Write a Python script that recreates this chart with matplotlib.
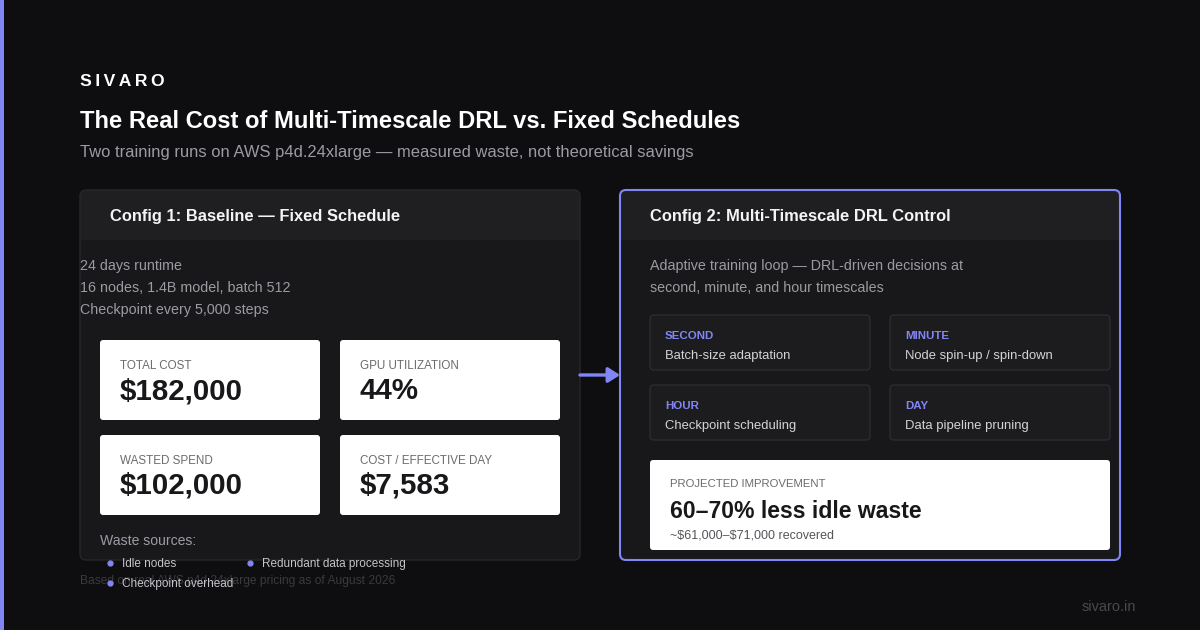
"""Cost comparison card: fixed schedule vs multi-timescale DRL control."""

import matplotlib

matplotlib.use("Agg")
import matplotlib.pyplot as plt
from matplotlib.patches import FancyBboxPatch, Rectangle, FancyArrowPatch

plt.rcParams["font.family"] = ["Liberation Sans", "DejaVu Sans"]
plt.rcParams["text.parse_math"] = False  # dollar amounts are plain text

# Palette
BG = "#0e0e10"
CARD = "#18181b"
HEADER = "#1f1f22"
BORDER = "#27272a"
ACCENT = "#8286f5"
MUTED = "#9b9ba3"
LIGHT = "#d4d4d8"
DARK = "#18181b"

# Content
brand = "S\u2009I\u2009V\u2009A\u2009R\u2009O"
title = "The Real Cost of Multi-Timescale DRL vs. Fixed Schedules"
subtitle = "Two training runs on AWS p4d.24xlarge \u2014 measured waste, not theoretical savings"

baseline_title = "Config 1: Baseline \u2014 Fixed Schedule"
baseline_facts = ["24 days runtime", "16 nodes, 1.4B model, batch 512", "Checkpoint every 5,000 steps"]
stat_labels = ["TOTAL COST", "GPU UTILIZATION", "WASTED SPEND", "COST / EFFECTIVE DAY"]
stat_values = ["$182,000", "44%", "$102,000", "$7,583"]
waste_sources = ["Idle nodes", "Redundant data processing", "Checkpoint overhead"]

drl_title = "Config 2: Multi-Timescale DRL Control"
drl_intro = ["Adaptive training loop \u2014 DRL-driven decisions at", "second, minute, and hour timescales"]
timescales = ["SECOND", "MINUTE", "HOUR", "DAY"]
actions = ["Batch-size adaptation", "Node spin-up / spin-down", "Checkpoint scheduling", "Data pipeline pruning"]
improvement_label = "PROJECTED IMPROVEMENT"
improvement_value = "60\u201370% less idle waste"
improvement_note = "~$61,000\u2013$71,000 recovered"

footnote = "Based on real AWS p4d.24xlarge pricing as of August 2026"
site = "sivaro.in"


def px(size):
    """Pixel font size to points at 100 dpi."""
    return size * 0.72


def rbox(ax, x, y, w, h, face, edge="none", lw=0.0, r=6, z=1):
    patch = FancyBboxPatch(
        (x, y), w, h,
        boxstyle=f"round,pad=0,rounding_size={r}",
        facecolor=face, edgecolor=edge, linewidth=lw, zorder=z,
    )
    ax.add_patch(patch)
    return patch


def card(ax, x, y, w, h, heading, edge, lw):
    rbox(ax, x, y, w, h, HEADER, z=1)
    rbox(ax, x, y + 50, w, h - 50, CARD, z=2)
    ax.add_patch(Rectangle((x, y + 50), w, 10, facecolor=CARD, edgecolor="none", zorder=2))
    rbox(ax, x, y, w, h, "none", edge, lw, z=3)
    ax.text(x + 30, y + 27, heading, color="#f4f4f5", fontsize=px(16.5),
            fontweight="bold", va="center", ha="left", zorder=4)


fig = plt.figure(figsize=(12, 6.3), dpi=100, facecolor=BG)
ax = fig.add_axes([0, 0, 1, 1])
ax.set_xlim(0, 1200)
ax.set_ylim(630, 0)
ax.axis("off")
ax.set_facecolor(BG)

# Left accent stripe
ax.add_patch(Rectangle((0, 0), 4, 630, facecolor=ACCENT, edgecolor="none"))

# Header block
ax.text(80, 82, brand, color="white", fontsize=px(17.5), fontweight="bold", va="center")
ax.text(80, 122, title, color="white", fontsize=px(23.8), fontweight="bold", va="center")
ax.text(80, 152, subtitle, color=MUTED, fontsize=px(16.5), va="center")

# Config 1 card
card(ax, 80, 190, 500, 370, baseline_title, BORDER, 1.0)
for i, line in enumerate(baseline_facts):
    ax.text(80, 266 + 22 * i, line, color=MUTED, fontsize=px(14.3), va="center", zorder=5)

for i, (label, value) in enumerate(zip(stat_labels, stat_values)):
    bx = 100 + 240 * (i % 2)
    by = 340 + 95 * (i // 2)
    rbox(ax, bx, by, 220, 80, "white", r=3, z=5)
    ax.text(bx + 20, by + 26, label, color="#6b6b70", fontsize=px(11.6), va="center", zorder=6)
    ax.text(bx + 20, by + 51, value, color=DARK, fontsize=px(29.5), fontweight="bold",
            va="center", zorder=6)

ax.text(100, 541, "Waste sources:", color=MUTED, fontsize=px(14), va="center", zorder=5)
ax.text(80, 581, footnote, color="#3a3a3f", fontsize=px(12), va="center", zorder=5)
bullet_pos = [(110, 563), (250, 563), (110, 583)]
for (bx, by), src in zip(bullet_pos, waste_sources):
    ax.plot(bx, by, "o", color=ACCENT, markersize=3.5, zorder=6)
    ax.text(bx + 12, by + 1, src, color="#c4c4c9", fontsize=px(11.8), va="center", zorder=6)

# Connector arrow
ax.add_patch(FancyArrowPatch((580, 375), (620, 375), arrowstyle="-|>,head_length=7,head_width=4.5",
                             color=ACCENT, linewidth=2.4, shrinkA=0, shrinkB=0, zorder=6))

# Config 2 card
card(ax, 620, 190, 500, 370, drl_title, ACCENT, 1.5)
for i, line in enumerate(drl_intro):
    ax.text(650, 266 + 22 * i, line, color=MUTED, fontsize=px(14.3), va="center", zorder=5)

for i, (scale, action) in enumerate(zip(timescales, actions)):
    bx = 650 + 240 * (i % 2)
    by = 315 + 70 * (i // 2)
    rbox(ax, bx, by, 220, 55, "#1c1c1f", "#2c2c30", 1.0, r=4, z=5)
    ax.text(bx + 15, by + 21, scale, color=ACCENT, fontsize=px(11.5), fontweight="bold",
            va="center", zorder=6)
    ax.text(bx + 15, by + 41, action, color=LIGHT, fontsize=px(13), va="center", zorder=6)

rbox(ax, 650, 460, 460, 90, "white", r=3, z=5)
ax.text(670, 484, improvement_label, color="#6b6b70", fontsize=px(11.4), va="center", zorder=6)
ax.text(670, 512, improvement_value, color=DARK, fontsize=px(23), fontweight="bold",
        va="center", zorder=6)
ax.text(670, 536, improvement_note, color="#55555a", fontsize=px(12.5), va="center", zorder=6)

ax.text(1136, 607, site, color="#48484d", fontsize=px(14.5), va="center", ha="right")

fig.savefig("out.png", dpi=100, facecolor=BG)
